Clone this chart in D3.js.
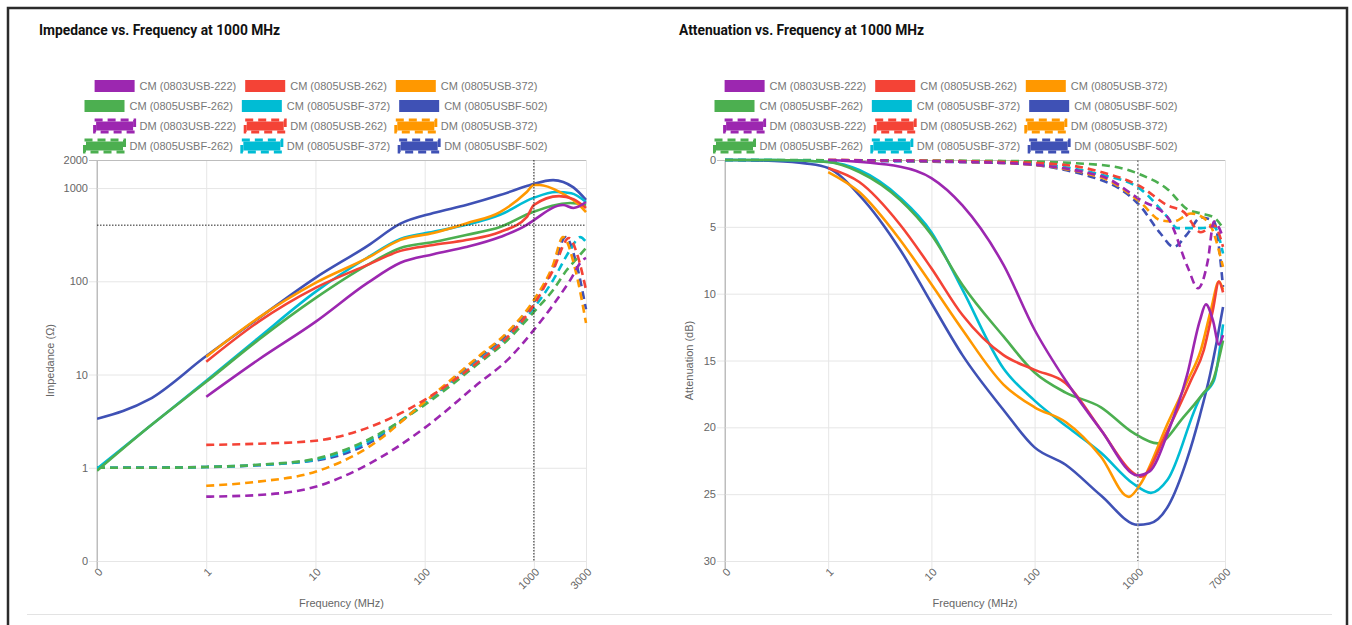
<!DOCTYPE html>
<html>
<head>
<meta charset="utf-8">
<script src="https://cdn.jsdelivr.net/npm/d3@7"></script>
<style>
  body { margin: 0; background: #fff; }
  text { font-family: "Liberation Sans", Arial, sans-serif; }
</style>
</head>
<body>
<svg id="chart" width="1352" height="625"></svg>
<script>
// legend names + colours (same for both charts)
var seriesNames = [
  "CM (0803USB-222)", "CM (0805USB-262)", "CM (0805USB-372)",
  "CM (0805USBF-262)", "CM (0805USBF-372)", "CM (0805USBF-502)",
  "DM (0803USB-222)", "DM (0805USB-262)", "DM (0805USB-372)",
  "DM (0805USBF-262)", "DM (0805USBF-372)", "DM (0805USBF-502)"
];
var seriesColors = ["#9c27b0", "#f44336", "#ff9800", "#4caf50", "#00bcd4", "#3f51b5"];

// impedance [MHz, ohm]
var impCM222  = [[1,5.77],[3,14.4],[10,36.7],[30,96],[60,158],[120,195],[240,233],[490,299],[860,402],[1000,454],[1850,658],[2300,611],[3000,708]];
var impCM262  = [[1,13.7],[3,36.7],[10,85],[30,150],[60,212],[120,245],[240,277],[490,338],[860,489],[1000,658],[1700,820],[2300,760],[3000,611]];
var impCM372  = [[1,15.5],[3,40.5],[10,96],[30,178],[60,278],[120,330],[240,418],[490,553],[860,906],[1000,1080],[1130,1080],[1730,906],[2600,658],[3000,553]];
var impCMF262 = [[0.1,0.93],[0.3,2.75],[1,8.35],[3,23.5],[10,66],[30,150],[60,228],[120,264],[240,314],[490,382],[980,553],[2150,691],[3000,658]];
var impCMF372 = [[0.1,0.975],[0.3,2.75],[1,8.55],[3,24.7],[10,77],[30,180],[60,285],[120,339],[240,403],[490,517],[980,780],[1600,906],[2200,880],[3000,708]];
var impCMF502 = [[0.1,3.35],[0.3,5.4],[1,15.8],[3,40],[10,109],[30,240],[60,415],[120,540],[240,658],[490,841],[860,1050],[1000,1110],[1500,1218],[2300,1016],[3000,745]];
var impDM222  = [[1,0.49],[3,0.51],[10,0.625],[30,1.08],[100,2.68],[300,7.75],[600,15.1],[1000,30.1],[1500,55.7],[2150,103],[2800,169],[3000,178]];
var impDM262  = [[1,1.76],[3,1.81],[10,1.95],[30,2.68],[100,5.35],[300,13.3],[600,26.6],[1000,55.7],[1500,132],[2100,291],[2500,192],[3000,81]];
var impDM372  = [[1,0.64],[3,0.71],[10,0.906],[30,1.64],[100,5.1],[300,15.1],[600,30.1],[1000,63],[1500,150],[1850,299],[2400,132],[3000,35.8]];
var impDMF262 = [[0.1,1.0],[0.3,1.0],[1,1.02],[3,1.077],[10,1.25],[30,1.99],[100,4.73],[300,12.7],[600,24.7],[1000,46.9],[1500,80.8],[2000,132],[2500,178],[3000,228]];
var impDMF372 = [[0.1,1.0],[0.3,1.0],[1,1.02],[3,1.07],[10,1.22],[30,1.9],[100,4.96],[300,13.6],[600,26.6],[1000,51.8],[1500,103],[2150,217],[2650,298],[3000,265]];
var impDMF502 = [[0.1,1.0],[1,1.02],[10,1.2],[30,1.8],[100,5.0],[300,14.5],[600,29],[1000,60],[1500,140],[1950,299],[2500,140],[3000,50]];

// attenuation [MHz, dB]
var attCM222  = [[1,0],[5,0.5],[10,1.35],[20,3.4],[50,7.85],[100,12.7],[200,16.5],[440,20.2],[1000,23.6],[1300,23.3],[2000,20.2],[3000,16.1],[4000,12.0],[4570,10.8],[5350,12.0],[6110,13.8],[6700,13.1]];
var attCM262  = [[1,0.6],[2,1.65],[5,4.86],[10,8.1],[20,11.6],[50,14.6],[100,15.7],[200,16.7],[440,20.2],[900,23.4],[1070,23.7],[1950,20.2],[3270,16.5],[4370,14.2],[5350,11.2],[6110,9.1],[6700,9.9]];
var attCM372  = [[1,0.9],[2,2.4],[5,6.0],[10,9.3],[20,12.7],[50,16.8],[100,18.5],[200,19.6],[440,22.2],[820,25.2],[1070,24.2],[1950,19.7],[3040,16.5],[4090,14.2],[5120,11.2],[6110,9.1],[6700,9.7]];
var attCMF262 = [[0.1,0],[0.3,0],[1,0.15],[2,0.9],[5,3.0],[10,5.6],[20,9.35],[50,13.2],[100,15.9],[200,17.4],[440,18.5],[900,20.4],[1560,21.2],[2800,19.2],[4370,17.4],[5350,16.5],[6700,13.5]];
var attCMF372 = [[0.1,0],[0.3,0],[1,0.15],[2,0.75],[5,2.84],[10,5.4],[20,9.7],[50,15.6],[100,18.0],[210,20.0],[440,21.9],[900,24.2],[1340,24.9],[1950,23.9],[4090,17.7],[5470,16.5],[6700,12.3]];
var attCMF502 = [[0.1,0],[0.3,0.07],[0.6,0.25],[1,0.6],[2,2.62],[5,6.73],[10,10.7],[20,14.6],[50,18.7],[100,21.5],[200,22.8],[440,25.1],[1000,27.3],[1300,27.2],[2000,25.8],[3000,22.4],[4000,19.1],[5000,16.1],[5850,13.5],[6700,11.0]];
var attDM222  = [[1,0],[50,0.22],[440,1.2],[1070,3.0],[1950,4.3],[3040,8.0],[3830,9.6],[4780,7.5],[5470,4.6],[6700,5.8]];
var attDM262  = [[1,0],[50,0.15],[200,0.37],[440,0.9],[1070,2.0],[1950,3.4],[2800,3.9],[4090,5.4],[5470,4.9],[6700,6.5]];
var attDM372  = [[1,0],[50,0.22],[440,1.3],[1070,3.2],[1660,4.5],[2230,4.6],[3270,4.0],[4780,4.6],[6700,8.0]];
var attDMF262 = [[0.1,0],[50,0.07],[440,0.37],[1070,1.1],[1950,2.2],[3040,3.7],[4090,4.0],[5470,4.3],[6700,5.1]];
var attDMF372 = [[0.1,0],[50,0.15],[440,1.1],[1070,2.2],[1950,4.3],[2420,5.1],[4090,5.1],[5470,5.0],[6700,7.0]];
var attDMF502 = [[0.1,0],[50,0.22],[440,1.5],[1070,3.5],[1660,5.5],[2230,6.5],[3040,5.5],[4090,4.3],[5470,4.6],[6700,9.5]];

// tick values / labels
var impXTicks = [0.1, 1, 10, 100, 1000, 3000];
var impXLabels = ["0", "1", "10", "100", "1000", "3000"];
var impYTicks = [0.1, 1, 10, 100, 1000, 2000];
var impYLabels = ["0", "1", "10", "100", "1000", "2000"];
var attXTicks = [0.1, 1, 10, 100, 1000, 7000];
var attXLabels = ["0", "1", "10", "100", "1000", "7000"];
var attYTicks = [0, 5, 10, 15, 20, 25, 30];

var svg = d3.select("#chart");
var tickColor = "#666";
var gridColor = "#e6e6e6";

// frame
svg.append("rect")
  .attr("x", 8).attr("y", 8).attr("width", 1339).attr("height", 700)
  .attr("fill", "none").attr("stroke", "#2b2b2b").attr("stroke-width", 2.5);
svg.append("line")
  .attr("x1", 27).attr("x2", 1332).attr("y1", 614.5).attr("y2", 614.5)
  .attr("stroke", "#e3e3e3");

function drawChart(c) {
  var g = svg.append("g");
  var top = 160, bottom = 561;

  var x = d3.scaleLog().domain(c.xDomain).range([c.left, c.right]);
  var y = c.y.range(c.yRange);

  // title
  g.append("text")
    .attr("x", c.titleX).attr("y", 35)
    .style("font-family", "Roboto, 'Liberation Sans', sans-serif")
    .style("font-weight", "bold").style("font-size", "13.8px")
    .attr("fill", "#111")
    .text(c.title);

  // x grid + labels
  var xAxis = g.append("g")
    .attr("transform", `translate(0, ${bottom})`)
    .call(d3.axisBottom(x).tickValues(c.xTicks)
      .tickFormat((d, i) => c.xLabels[i]).tickSize(-(bottom - top)));
  xAxis.select(".domain").remove();
  xAxis.selectAll(".tick line")
    .attr("y1", 8)
    .attr("stroke", (d, i) => i == 0 ? "#bdbdbd" : gridColor);
  xAxis.selectAll(".tick text")
    .attr("y", 0).attr("dy", "0.35em")
    .attr("transform", "translate(3, 9) rotate(-45)")
    .style("text-anchor", "end")
    .style("font-size", "11px")
    .attr("fill", tickColor);

  // y grid + labels
  var yAxis = g.append("g")
    .attr("transform", `translate(${c.left}, 0)`)
    .call(d3.axisLeft(y).tickValues(c.yTicks)
      .tickFormat((d, i) => c.yLabels[i]).tickSize(-(c.right - c.left)));
  yAxis.select(".domain").remove();
  yAxis.selectAll(".tick line")
    .attr("x1", -8)
    .attr("stroke", d => y(d) == top ? "#bdbdbd" : gridColor);
  yAxis.selectAll(".tick text")
    .attr("x", -9)
    .style("font-size", "11px")
    .attr("fill", tickColor);
  g.append("line")
    .attr("x1", c.left).attr("x2", c.left).attr("y1", top).attr("y2", bottom + 8)
    .attr("stroke", "#bdbdbd");

  // axis titles
  g.append("text")
    .attr("x", (c.left + c.right) / 2).attr("y", 607)
    .attr("text-anchor", "middle")
    .style("font-size", "11px").attr("fill", tickColor)
    .text("Frequency (MHz)");
  g.append("text")
    .attr("transform", `translate(${c.yTitleX}, ${(top + bottom) / 2}) rotate(-90)`)
    .attr("text-anchor", "middle")
    .style("font-size", "11px").attr("fill", tickColor)
    .text(c.yTitle);

  // lines, last dataset drawn first
  var clipId = "clip" + c.left;
  g.append("clipPath").attr("id", clipId)
    .append("rect")
    .attr("x", c.left).attr("y", top - 4)
    .attr("width", c.right - c.left + 4).attr("height", bottom - top + 8);

  var line = d3.line()
    .x(d => x(d[0]))
    .y(d => y(d[1]))
    .curve(d3.curveMonotoneX);

  var lines = g.append("g").attr("clip-path", `url(#${clipId})`);
  for (var i = c.series.length - 1; i >= 0; i--) {
    lines.append("path")
      .attr("d", line(c.series[i]))
      .attr("fill", "none")
      .attr("stroke", seriesColors[i % 6])
      .attr("stroke-width", 2.6)
      .attr("stroke-dasharray", i >= 6 ? "8,5" : null);
  }

  // crosshair at 1000 MHz
  g.append("line")
    .attr("x1", x(1000)).attr("x2", x(1000)).attr("y1", top).attr("y2", bottom)
    .attr("stroke", c.crossColor).attr("stroke-width", c.crossWidth)
    .attr("stroke-dasharray", c.crossDash);
  if (c.crossY != null) {
    g.append("line")
      .attr("x1", c.left).attr("x2", c.right).attr("y1", y(c.crossY)).attr("y2", y(c.crossY))
      .attr("stroke", c.crossColor).attr("stroke-width", c.crossWidth)
      .attr("stroke-dasharray", c.crossDash);
  }

  // legend: 4 rows of 3, each row centred
  var legend = g.append("g");
  for (var r = 0; r < 4; r++) {
    var row = legend.append("g");
    var cursor = 0;
    for (var k = 0; k < 3; k++) {
      var idx = r * 3 + k;
      var item = row.append("g").attr("transform", `translate(${cursor}, 0)`);
      var col = seriesColors[idx % 6];
      if (idx < 6) {
        item.append("rect")
          .attr("x", 0).attr("y", -6).attr("width", 40).attr("height", 12)
          .attr("fill", col);
      } else {
        item.append("rect")
          .attr("x", 1.5).attr("y", -4.5).attr("width", 37).attr("height", 9)
          .attr("fill", col);
        item.append("rect")
          .attr("x", 0).attr("y", -6).attr("width", 40).attr("height", 12)
          .attr("fill", "none").attr("stroke", col).attr("stroke-width", 3)
          .attr("stroke-dasharray", "8,5");
      }
      var t = item.append("text")
        .attr("x", 45).attr("y", 0).attr("dy", "0.35em")
        .style("font-size", "11px").attr("fill", "#777")
        .text(seriesNames[idx]);
      cursor += 45 + t.node().getComputedTextLength() + 9;
    }
    var rowW = cursor - 9;
    row.attr("transform", `translate(${c.legendCx - rowW / 2}, ${86 + r * 20})`);
  }
}

drawChart({
  title: "Impedance vs. Frequency at 1000 MHz", titleX: 39,
  left: 97, right: 586, xDomain: [0.1, 3000],
  y: d3.scaleLog().domain([0.1, 2000]), yRange: [561, 160],
  xTicks: impXTicks, xLabels: impXLabels, yTicks: impYTicks, yLabels: impYLabels,
  yTitle: "Impedance (\u03a9)", yTitleX: 54, legendCx: 316,
  series: [impCM222, impCM262, impCM372, impCMF262, impCMF372, impCMF502,
           impDM222, impDM262, impDM372, impDMF262, impDMF372, impDMF502],
  crossY: 400, crossColor: "#222", crossWidth: 1, crossDash: "1.5,1.5"
});

drawChart({
  title: "Attenuation vs. Frequency at 1000 MHz", titleX: 679,
  left: 725, right: 1225, xDomain: [0.1, 7000],
  y: d3.scaleLinear().domain([0, 30]), yRange: [160, 561],
  xTicks: attXTicks, xLabels: attXLabels, yTicks: attYTicks, yLabels: attYTicks.map(String),
  yTitle: "Attenuation (dB)", yTitleX: 693, legendCx: 946,
  series: [attCM222, attCM262, attCM372, attCMF262, attCMF372, attCMF502,
           attDM222, attDM262, attDM372, attDMF262, attDMF372, attDMF502],
  crossY: null, crossColor: "#8a8a8a", crossWidth: 1.5, crossDash: "2,2"
});
</script>
</body>
</html>
